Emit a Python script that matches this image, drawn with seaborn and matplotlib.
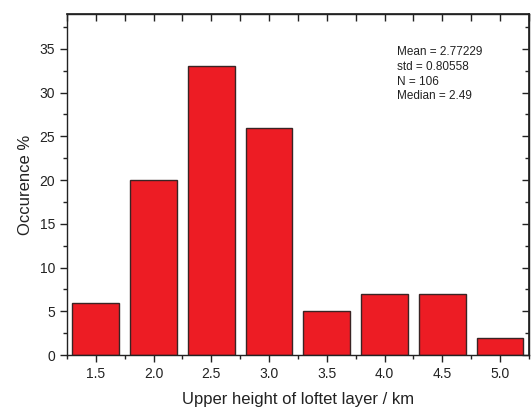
import matplotlib
matplotlib.use("Agg")
import matplotlib.pyplot as plt
import pandas as pd
import seaborn as sns
from matplotlib.ticker import MultipleLocator

# values
heights = [1.5, 2.0, 2.5, 3.0, 3.5, 4.0, 4.5, 5.0]
occurrence = [6, 20, 33, 26, 5, 7, 7, 2]
stats_lines = ["Mean = 2.77229", "std = 0.80558", "N = 106", "Median = 2.49"]

df = pd.DataFrame({"height": heights, "occ": occurrence})

sns.set_theme(style="ticks")
plt.rcParams["font.family"] = ["Liberation Sans", "DejaVu Sans"]

fig = plt.figure(figsize=(5.31, 4.09), dpi=100)
ax = fig.add_axes([0.126, 0.132, 0.870, 0.834])

sns.barplot(data=df, x="height", y="occ", native_scale=True, width=0.81,
            color="#ED1C24", saturation=1, edgecolor="#3a2424", linewidth=1.0, ax=ax)

ax.set_xlim(1.25, 5.25)
ax.set_ylim(0, 39)
ax.xaxis.set_major_locator(MultipleLocator(0.5))
ax.xaxis.set_minor_locator(MultipleLocator(0.25))
ax.yaxis.set_major_locator(MultipleLocator(5))
ax.yaxis.set_minor_locator(MultipleLocator(2.5))
ax.set_xticks(heights)
ax.set_xticklabels([f"{h:.1f}" for h in heights])

for side in ["top", "right", "left", "bottom"]:
    ax.spines[side].set_visible(True)
    ax.spines[side].set_color("#222222")
    ax.spines[side].set_linewidth(1.0)

ax.tick_params(axis="both", which="major", direction="out", length=5, width=1,
               labelsize=10, color="#222222", labelcolor="#222222")
ax.tick_params(axis="both", which="minor", direction="out", length=3, width=1, color="#222222")

# mirrored inward ticks on top and right
top = ax.secondary_xaxis("top")
top.set_xticks([1.25 + 0.25 * i for i in range(17)])
top.tick_params(direction="in", length=5, width=1, labeltop=False, color="#222222")
top.set_xticklabels([])
right = ax.secondary_yaxis("right")
right.yaxis.set_major_locator(MultipleLocator(5))
right.yaxis.set_minor_locator(MultipleLocator(2.5))
right.tick_params(which="major", direction="in", length=5, width=1, labelright=False, color="#222222")
right.tick_params(which="minor", direction="in", length=3, width=1, color="#222222")
right.set_yticklabels([])

ax.set_xlabel("Upper height of loftet layer / km", fontsize=12, color="#222222", labelpad=8)
ax.set_ylabel("Occurence %", fontsize=12, color="#222222", labelpad=5)

ax.text(0.714, 0.905, "\n".join(stats_lines), transform=ax.transAxes,
        fontsize=8.5, va="top", ha="left", linespacing=1.3, color="#222222")

fig.savefig("out.png", dpi=100)
